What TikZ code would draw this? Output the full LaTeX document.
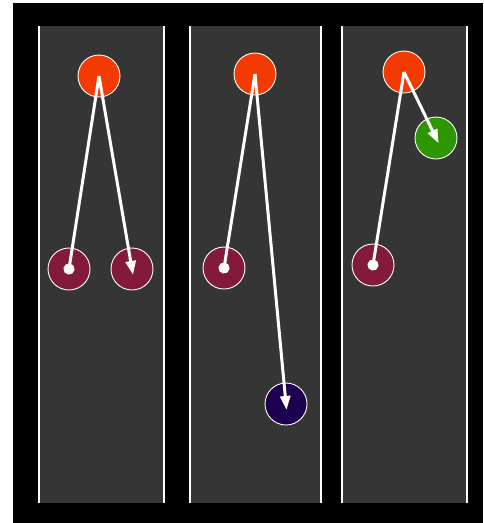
\documentclass[tikz,border=0pt]{standalone}
\usetikzlibrary{arrows.meta}
\definecolor{lanegray}{HTML}{353535}
\definecolor{startred}{HTML}{F33A00}
\definecolor{pickmaroon}{HTML}{841A3A}
\definecolor{farnavy}{HTML}{1E0050}
\definecolor{nextgreen}{HTML}{2E9600}
\begin{document}
\begin{tikzpicture}[x=1pt, y=-1pt,
    ball/.style={circle, draw=white, line width=0.9pt, minimum size=42pt, inner sep=0pt},
    link/.style={draw=white, line width=3pt},
    dotend/.style={link, shorten >=-5.5pt, -{Circle[length=11pt]}},
    arrowend/.style={link, shorten >=-6pt, -{Triangle[length=14pt, width=10pt]}}]
  \useasboundingbox (0,0) rectangle (483,523);
  % background
  \fill[black] (13,3) rectangle (483,523);

  % lanes
  \fill[lanegray] (39,26) rectangle (164,503);
  \fill[lanegray] (190,26) rectangle (321,503);
  \fill[lanegray] (342,26) rectangle (467,503);
  \foreach \xl in {39,164,190,321,342,467}
    \draw[white, line width=1.8pt] (\xl,26) -- (\xl,503);

  % lane one
  \node[ball, fill=startred] (a0) at (99,76) {};
  \node[ball, fill=pickmaroon] (a1) at (69,269) {};
  \node[ball, fill=pickmaroon] (a2) at (132,269) {};
  \draw[dotend] (a0.center) -- (a1.center);
  \draw[arrowend] (a0.center) -- (a2.center);

  % lane two
  \node[ball, fill=startred] (b0) at (255,74) {};
  \node[ball, fill=pickmaroon] (b1) at (224,268) {};
  \node[ball, fill=farnavy] (b2) at (286,404) {};
  \draw[dotend] (b0.center) -- (b1.center);
  \draw[arrowend] (b0.center) -- (b2.center);

  % lane three
  \node[ball, fill=startred] (c0) at (404,72) {};
  \node[ball, fill=nextgreen] (c2) at (436,138) {};
  \node[ball, fill=pickmaroon] (c1) at (373,265) {};
  \draw[dotend] (c0.center) -- (c1.center);
  \draw[arrowend] (c0.center) -- (c2.center);
\end{tikzpicture}
\end{document}
